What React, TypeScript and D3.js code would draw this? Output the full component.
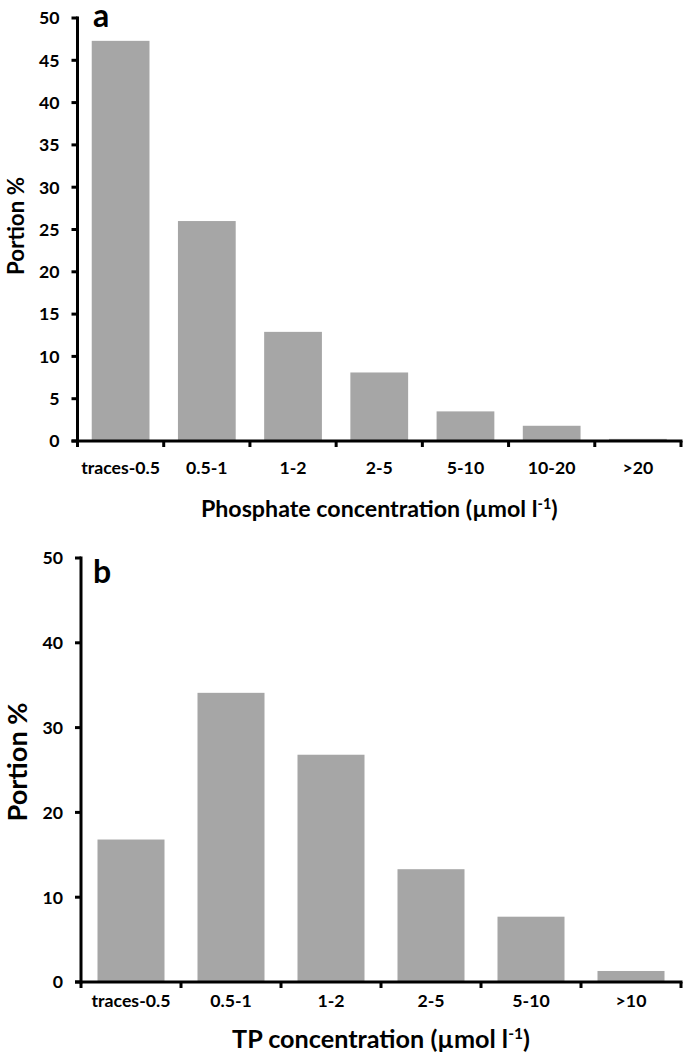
import React, { useLayoutEffect, useRef, useState } from "react";
import * as d3 from "d3";

const catsA = ["traces-0.5", "0.5-1", "1-2", "2-5", "5-10", "10-20", ">20"];
const valsA = [47.3, 26.0, 12.9, 8.1, 3.5, 1.8, 0.25];
const ticksA = [0, 5, 10, 15, 20, 25, 30, 35, 40, 45, 50];

const catsB = ["traces-0.5", "0.5-1", "1-2", "2-5", "5-10", ">10"];
const valsB = [16.8, 34.1, 26.8, 13.3, 7.7, 1.3];
const ticksB = [0, 10, 20, 30, 40, 50];

const FONT = "Lato, 'Open Sans', sans-serif";
const BAR = "#a6a6a6";

type Sizes = {
  tick: number;
  titleA: number;
  titleB: number;
  portA: number;
  portB: number;
};

// target rendered widths (px) used to calibrate font sizes
const TARGETS: Sizes = { tick: 79, titleA: 357, titleB: 298, portA: 98, portB: 119 };

type PanelProps = {
  cats: string[];
  vals: number[];
  ticks: number[];
  x0: number;
  x1: number;
  yTop: number;
  yBase: number;
  letter: string;
  letterX: number;
  letterY: number;
  titleMain: string;
  titleSize: number;
  titleY: number;
  ylabelSize: number;
  ylabelX: number;
  ylabelY: number;
  tickSize: number;
  tickLabelY: number;
  refs: { [k: string]: SVGTextElement | null };
  prefix: string;
};

function Panel(p: PanelProps) {
  const x = d3
    .scaleBand<string>()
    .domain(p.cats)
    .range([p.x0, p.x1])
    .paddingInner(0.33)
    .paddingOuter(0.165);
  const y = d3.scaleLinear().domain([0, 50]).range([p.yBase, p.yTop]);
  const step = x.step();
  return (
    <g>
      {p.cats.map((c, i) => (
        <rect
          key={c}
          x={x(c)}
          y={y(p.vals[i])}
          width={x.bandwidth()}
          height={y(0) - y(p.vals[i])}
          fill={BAR}
        />
      ))}
      <line x1={p.x0} x2={p.x0} y1={p.yTop - 1.5} y2={p.yBase + 1.5} stroke="#000" strokeWidth={3} />
      {p.ticks.map((t) => (
        <g key={t}>
          <line x1={p.x0 - 6} x2={p.x0} y1={y(t)} y2={y(t)} stroke="#000" strokeWidth={3} />
          <text
            x={p.x0 - 18}
            y={y(t)}
            dy="0.36em"
            textAnchor="end"
            fontFamily={FONT}
            fontWeight="bold"
            fontSize={p.tickSize}
            fill="#000"
          >
            {t}
          </text>
        </g>
      ))}
      <line x1={p.x0 - 6} x2={p.x1 + 1.5} y1={p.yBase} y2={p.yBase} stroke="#000" strokeWidth={3} />
      {d3.range(p.cats.length + 1).map((i) => (
        <line
          key={i}
          x1={p.x0 + i * step}
          x2={p.x0 + i * step}
          y1={p.yBase}
          y2={p.yBase + 6}
          stroke="#000"
          strokeWidth={3}
        />
      ))}
      {p.cats.map((c, i) => (
        <text
          key={c}
          ref={i === 0 ? (el) => { p.refs[p.prefix + "tick"] = el; } : undefined}
          x={(x(c) as number) + x.bandwidth() / 2}
          y={p.tickLabelY}
          textAnchor="middle"
          fontFamily={FONT}
          fontWeight="bold"
          fontSize={p.tickSize}
          fill="#000"
        >
          {c}
        </text>
      ))}
      <text
        ref={(el) => { p.refs[p.prefix + "title"] = el; }}
        x={(p.x0 + p.x1) / 2}
        y={p.titleY}
        textAnchor="middle"
        fontFamily={FONT}
        fontWeight="bold"
        fontSize={p.titleSize}
        fill="#000"
      >
        {p.titleMain}
        <tspan fontSize={p.titleSize * 0.62} dy={-p.titleSize * 0.36}>-1</tspan>
        <tspan dy={p.titleSize * 0.36}>)</tspan>
      </text>
      <text
        ref={(el) => { p.refs[p.prefix + "port"] = el; }}
        transform={`translate(${p.ylabelX},${p.ylabelY}) rotate(-90)`}
        textAnchor="middle"
        fontFamily={FONT}
        fontWeight="bold"
        fontSize={p.ylabelSize}
        fill="#000"
      >
        Portion %
      </text>
      <text
        x={p.letterX}
        y={p.letterY}
        fontFamily={FONT}
        fontWeight="bold"
        fontSize={32}
        fill="#000"
      >
        {p.letter}
      </text>
    </g>
  );
}

export default function App() {
  const refs = useRef<{ [k: string]: SVGTextElement | null }>({}).current;
  const [sizes, setSizes] = useState<Sizes>({ tick: 16, titleA: 22, titleB: 25, portA: 20, portB: 24 });
  const [done, setDone] = useState(false);

  useLayoutEffect(() => {
    if (done) return;
    const fit = (key: string, cur: number, target: number) => {
      const el = refs[key];
      if (!el) return cur;
      const len = el.getComputedTextLength();
      return len > 0 ? (cur * target) / len : cur;
    };
    setSizes({
      tick: fit("Atick", sizes.tick, TARGETS.tick),
      titleA: fit("Atitle", sizes.titleA, TARGETS.titleA),
      titleB: fit("Btitle", sizes.titleB, TARGETS.titleB),
      portA: fit("Aport", sizes.portA, TARGETS.portA),
      portB: fit("Bport", sizes.portB, TARGETS.portB),
    });
    setDone(true);
  }, [done]);

  return (
    <svg
      width={685}
      height={1056}
      style={{ position: "absolute", left: 0, top: 0, background: "#fff" }}
    >
      <rect width={685} height={1056} fill="#fff" />
      <Panel
        cats={catsA}
        vals={valsA}
        ticks={ticksA}
        x0={77.5}
        x1={681}
        yTop={18}
        yBase={441}
        letter="a"
        letterX={93}
        letterY={27}
        titleMain="Phosphate concentration (µmol l"
        titleSize={sizes.titleA}
        titleY={517}
        ylabelSize={sizes.portA}
        ylabelX={24}
        ylabelY={226}
        tickSize={sizes.tick}
        tickLabelY={474}
        refs={refs}
        prefix="A"
      />
      <Panel
        cats={catsB}
        vals={valsB}
        ticks={ticksB}
        x0={81}
        x1={681}
        yTop={558}
        yBase={982}
        letter="b"
        letterX={93}
        letterY={583}
        titleMain="TP concentration (µmol l"
        titleSize={sizes.titleB}
        titleY={1048}
        ylabelSize={sizes.portB}
        ylabelX={27}
        ylabelY={762}
        tickSize={sizes.tick}
        tickLabelY={1007}
        refs={refs}
        prefix="B"
      />
    </svg>
  );
}
